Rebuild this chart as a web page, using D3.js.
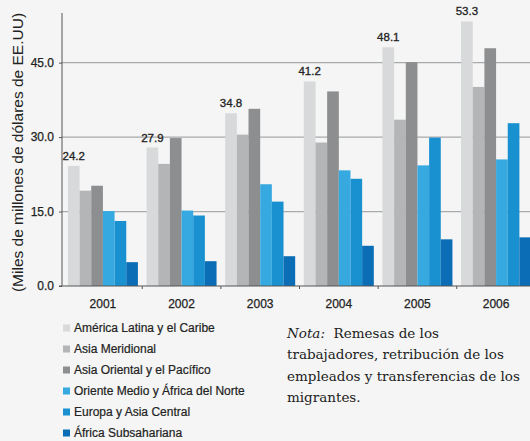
<!DOCTYPE html>
<html>
<head>
<meta charset="utf-8">
<script src="https://cdn.jsdelivr.net/npm/d3@7"></script>
<style>
  body { margin: 0; background: #f4f5f4; }
  svg { display: block; }
</style>
</head>
<body>
<div id="container"></div>
<script>
/* CONSTANTS AND GLOBALS */
const width = 530,
  height = 441,
  margin = { top: 13, bottom: 155, left: 62, right: -5 };

const years = ["2001", "2002", "2003", "2004", "2005", "2006"];
const regions = [
  "América Latina y el Caribe",
  "Asia Meridional",
  "Asia Oriental y el Pacífico",
  "Oriente Medio y África del Norte",
  "Europa y Asia Central",
  "África Subsahariana"
];
// values per region, one per year (miles de millones de US$)
const americaLatina = [24.2, 27.9, 34.8, 41.2, 48.1, 53.3];
const asiaMeridional = [19.2, 24.6, 30.5, 28.9, 33.5, 40.1];
const asiaOriental = [20.2, 29.8, 35.7, 39.2, 45.1, 47.9];
const orienteMedio = [15.1, 15.2, 20.5, 23.3, 24.3, 25.5];
const europaAsia = [13.1, 14.2, 17.0, 21.6, 29.9, 32.8];
const africaSub = [4.8, 5.0, 6.0, 8.1, 9.4, 9.8];
const yTicks = [0, 15, 30, 45];

const series = [americaLatina, asiaMeridional, asiaOriental, orienteMedio, europaAsia, africaSub];
const colors = ["#d7d9db", "#b4b5b7", "#8d8e90", "#36aae0", "#1991d1", "#0a6db5"];
const sans = "Liberation Sans, Arial, sans-serif";

const svg = d3.select("#container")
  .append("svg")
  .attr("width", width)
  .attr("height", height);

// scales
const xScale = d3.scaleBand()
  .domain(years)
  .range([margin.left + 2, width - margin.right])
  .paddingInner(0.11)
  .paddingOuter(0.05);

const xInner = d3.scaleBand()
  .domain(d3.range(regions.length))
  .range([0, xScale.bandwidth()]);

const yScale = d3.scaleLinear()
  .domain([0, 55])
  .range([height - margin.bottom, margin.top]);

// gridlines
svg.append("g")
  .selectAll("line")
  .data(yTicks.filter(d => d > 0))
  .join("line")
  .attr("x1", margin.left)
  .attr("x2", width)
  .attr("y1", d => yScale(d))
  .attr("y2", d => yScale(d))
  .attr("stroke", "#a9aaab")
  .attr("stroke-width", 1.2);

// bars
const groups = svg.append("g")
  .selectAll("g")
  .data(years)
  .join("g")
  .attr("transform", d => `translate(${xScale(d)},0)`);

groups.selectAll("rect")
  .data((yr, i) => series.map((s, k) => ({ k, v: s[i] })))
  .join("rect")
  .attr("x", d => xInner(d.k))
  .attr("width", xInner.bandwidth())
  .attr("y", d => yScale(d.v))
  .attr("height", d => yScale(0) - yScale(d.v))
  .attr("fill", d => colors[d.k]);

// value labels on first series
groups.append("text")
  .attr("x", xInner(0) + xInner.bandwidth() / 2)
  .attr("y", (d, i) => yScale(americaLatina[i]) - 6)
  .attr("text-anchor", "middle")
  .attr("font-family", sans)
  .attr("font-size", 11.5)
  .attr("fill", "#222")
  .attr("stroke", "#222")
  .attr("stroke-width", 0.3)
  .text((d, i) => americaLatina[i].toFixed(1));

// axes
const yAxis = d3.axisLeft(yScale)
  .tickValues(yTicks)
  .tickFormat(d3.format(".1f"))
  .tickSize(3);

const yAxisGroup = svg.append("g")
  .attr("transform", `translate(${margin.left},0)`)
  .call(yAxis);
yAxisGroup.select(".domain").attr("stroke", "#555").attr("d", `M0,${margin.top}V${yScale(0)}`);
yAxisGroup.selectAll(".tick line").attr("stroke", "#555");
yAxisGroup.selectAll("text")
  .attr("font-family", sans)
  .attr("font-size", 12)
  .attr("fill", "#222")
  .attr("stroke", "#222")
  .attr("stroke-width", 0.25)
  .attr("x", -8);

const xAxisGroup = svg.append("g")
  .attr("transform", `translate(0,${yScale(0)})`);
xAxisGroup.append("line")
  .attr("x1", margin.left - 3)
  .attr("x2", width)
  .attr("stroke", "#555");
// ticks between year groups
xAxisGroup.selectAll(".sep")
  .data(years.slice(1))
  .join("line")
  .attr("class", "sep")
  .attr("x1", d => xScale(d) - xScale.step() * xScale.paddingInner() / 2)
  .attr("x2", d => xScale(d) - xScale.step() * xScale.paddingInner() / 2)
  .attr("y1", 0)
  .attr("y2", 3)
  .attr("stroke", "#555");
xAxisGroup.selectAll(".yr")
  .data(years)
  .join("text")
  .attr("class", "yr")
  .attr("x", d => xScale(d) + xScale.bandwidth() / 2)
  .attr("y", 22)
  .attr("text-anchor", "middle")
  .attr("font-family", sans)
  .attr("font-size", 12)
  .attr("fill", "#222")
  .attr("stroke", "#222")
  .attr("stroke-width", 0.25)
  .text(d => d);

// y axis title
svg.append("text")
  .attr("transform", `translate(23,${(margin.top + yScale(0)) / 2 + 3}) rotate(-90)`)
  .attr("text-anchor", "middle")
  .attr("font-family", sans)
  .attr("font-size", 15.5)
  .attr("fill", "#222")
  .text("(Miles de millones de dólares de EE.UU)");

// legend
const legend = svg.append("g")
  .attr("transform", "translate(63,328)")
  .selectAll("g")
  .data(regions)
  .join("g")
  .attr("transform", (d, i) => `translate(0,${i * 21})`);
legend.append("rect")
  .attr("x", 0)
  .attr("y", -3.5)
  .attr("width", 7)
  .attr("height", 7)
  .attr("fill", (d, i) => colors[i]);
legend.append("text")
  .attr("x", 11)
  .attr("y", 4)
  .attr("font-family", sans)
  .attr("font-size", 12)
  .attr("fill", "#222")
  .attr("stroke", "#222")
  .attr("stroke-width", 0.2)
  .text(d => d);

// note
const noteLines = [
  "Remesas de los",
  "trabajadores, retribución de los",
  "empleados y transferencias de los",
  "migrantes."
];
const note = svg.append("text")
  .attr("font-family", "DejaVu Serif, Liberation Serif, serif")
  .attr("font-size", 13.5)
  .attr("fill", "#222");
note.selectAll("tspan")
  .data(noteLines)
  .join("tspan")
  .attr("x", 287)
  .attr("y", (d, i) => 338 + i * 21.3)
  .each(function (d, i) {
    const t = d3.select(this);
    if (i === 0) {
      t.append("tspan").attr("font-style", "italic").text("Nota:");
      t.append("tspan").text("  " + d).attr("xml:space", "preserve");
    } else {
      t.text(d);
    }
  });
</script>
</body>
</html>
